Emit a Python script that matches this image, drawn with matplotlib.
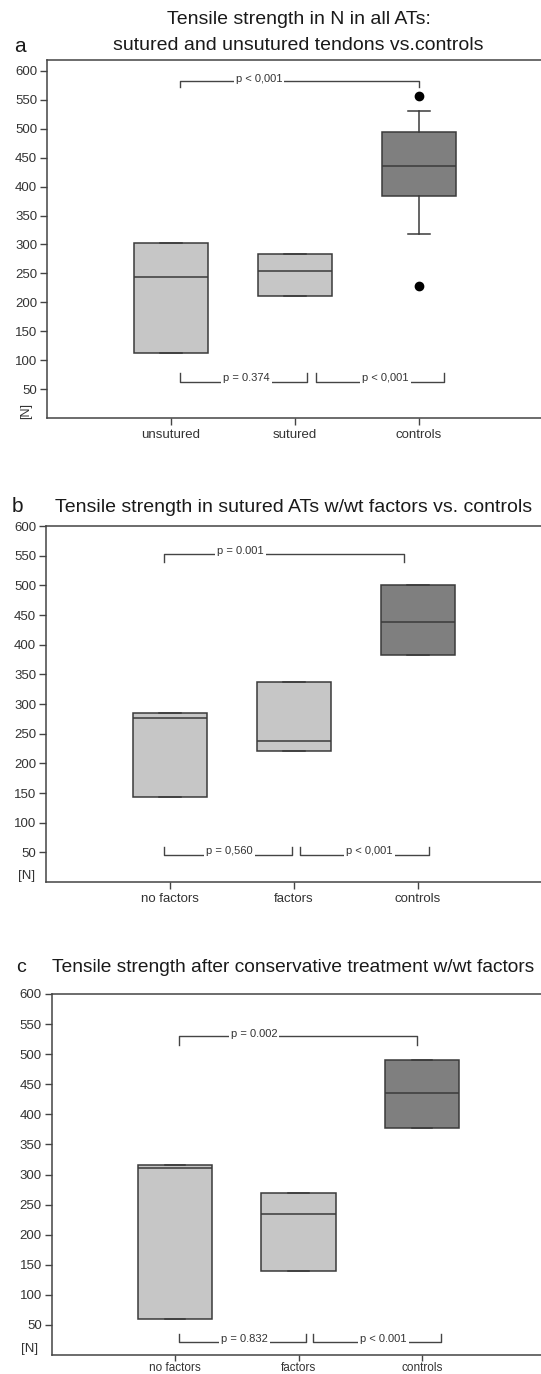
import matplotlib
matplotlib.use("Agg")
import matplotlib.pyplot as plt

plt.rcParams['font.family'] = ['Liberation Sans', 'DejaVu Sans']

# Daten
a_labels = ['unsutured', 'sutured', 'controls']
a_q1 = [112, 211, 384]
a_med = [244, 254, 435]
a_q3 = [303, 283, 495]
a_whislo = [112, 211, 318]
a_whishi = [303, 283, 530]
a_fliers = [[], [], [557, 229]]

b_labels = ['no factors', 'factors', 'controls']
b_q1 = [144, 221, 383]
b_med = [277, 237, 438]
b_q3 = [285, 337, 500]

c_labels = ['no factors', 'factors', 'controls']
c_q1 = [60, 140, 378]
c_med = [310, 234, 435]
c_q3 = [315, 269, 491]

yticks = [50, 100, 150, 200, 250, 300, 350, 400, 450, 500, 550, 600]

# Signifikanz-Klammern: (x1, x2, y, Beinlaenge, Text, Textposition)
a_brackets = [(1.07, 3.0, 582, -10, 'p < 0,001', 1.71),
              (1.07, 2.10, 62, 15, 'p = 0.374', 1.61),
              (2.17, 3.20, 62, 15, 'p < 0,001', 2.73)]
b_brackets = [(0.95, 2.89, 553, -14, 'p = 0.001', 1.57),
              (0.95, 1.98, 46, 13, 'p = 0,560', 1.48),
              (2.05, 3.09, 46, 13, 'p < 0,001', 2.61)]
c_brackets = [(1.03, 2.96, 530, -14, 'p = 0.002', 1.64),
              (1.03, 2.06, 21, 14, 'p = 0.832', 1.56),
              (2.12, 3.15, 21, 14, 'p < 0.001', 2.69)]

light = '#c6c6c6'
dark = '#7f7f7f'
edge = '#3a3a3a'

W, H = 541, 1374
fig = plt.figure(figsize=(W / 100, H / 100), dpi=100)


def panel(rect, ylim_top, labels, q1, med, q3, whislo, whishi, fliers, brackets,
          xlabelsize=9.5, xpad=3, xlen=5):
    ax = fig.add_axes(rect)
    stats = []
    for i in range(3):
        stats.append(dict(label=labels[i], q1=q1[i], med=med[i], q3=q3[i],
                          whislo=whislo[i], whishi=whishi[i], fliers=fliers[i]))
    bp = ax.bxp(stats, positions=[1, 2, 3], widths=0.6, patch_artist=True,
                capwidths=0.17,
                boxprops=dict(edgecolor=edge, linewidth=1.1),
                medianprops=dict(color=edge, linewidth=1.1),
                whiskerprops=dict(color=edge, linewidth=1.1),
                capprops=dict(color=edge, linewidth=1.1),
                flierprops=dict(marker='o', markerfacecolor='black',
                                markeredgecolor='black', markersize=6))
    for i, patch in enumerate(bp['boxes']):
        patch.set_facecolor(dark if i == 2 else light)

    for x1, x2, y, leg, txt, tx in brackets:
        ax.plot([x1, x1, x2, x2], [y + leg, y, y, y + leg], color='#444444', lw=1.0)
        ax.text(tx, y - (2 if leg > 0 else 4), txt, ha='center', va='bottom', fontsize=8,
                color='#333333',
                bbox=dict(facecolor='white', edgecolor='none', pad=1.5))

    ax.set_xlim(0, 4)
    ax.set_ylim(0, ylim_top)
    ax.set_yticks(yticks)
    ax.set_xticks([1, 2, 3])
    ax.set_xticklabels(labels)
    ax.tick_params(axis='both', direction='out', width=1.0, color='#444444',
                   labelcolor='#333333')
    ax.tick_params(axis='y', labelsize=9.5, pad=2, length=5)
    ax.tick_params(axis='x', labelsize=xlabelsize, pad=xpad, length=xlen)
    for s in ax.spines.values():
        s.set_color('#444444')
        s.set_linewidth(1.1)
    return ax


ax_a = panel([47 / W, 1 - 418 / H, 496 / W, 358 / H], 619, a_labels, a_q1, a_med, a_q3,
             a_whislo, a_whishi, a_fliers, a_brackets)
ax_a.text(-0.042, 0.02, '[N]', transform=ax_a.transAxes, rotation=90,
          ha='center', va='center', fontsize=9, color='#333333')

ax_b = panel([46 / W, 1 - 882 / H, 496 / W, 356 / H], 600, b_labels, b_q1, b_med, b_q3,
             b_q1, b_q3, [[], [], []], b_brackets)
ax_b.text(-0.04, 0.0, '[N]', transform=ax_b.transAxes,
          ha='center', va='bottom', fontsize=9.5, color='#333333')

ax_c = panel([51.5 / W, 1 - 1355 / H, 494 / W, 361 / H], 600, c_labels, c_q1, c_med, c_q3,
             c_q1, c_q3, [[], [], []], c_brackets, xlabelsize=8.5, xpad=1, xlen=4)
ax_c.text(-0.045, 0.0, '[N]', transform=ax_c.transAxes,
          ha='center', va='bottom', fontsize=9.5, color='#333333')

# Titel
fig.text(299 / W, 1 - 20 / H, 'Tensile strength in N in all ATs:', ha='center', va='center',
         fontsize=14, color='#1a1a1a')
fig.text(298 / W, 1 - 45 / H, 'sutured and unsutured tendons vs.controls', ha='center',
         va='center', fontsize=14, color='#1a1a1a')
fig.text(20 / W, 1 - 46 / H, 'a', ha='center', va='center', fontsize=15, color='#1a1a1a')

fig.text(55 / W, 1 - 507 / H, 'Tensile strength in sutured ATs w/wt factors vs. controls',
         ha='left', va='center', fontsize=14, color='#1a1a1a')
fig.text(17 / W, 1 - 507 / H, 'b', ha='center', va='center', fontsize=15, color='#1a1a1a')

fig.text(52 / W, 1 - 967 / H, 'Tensile strength after conservative treatment w/wt factors',
         ha='left', va='center', fontsize=13.8, color='#1a1a1a')
fig.text(21 / W, 1 - 967 / H, 'c', ha='center', va='center', fontsize=14, color='#1a1a1a')

fig.savefig('out.png', dpi=100)
